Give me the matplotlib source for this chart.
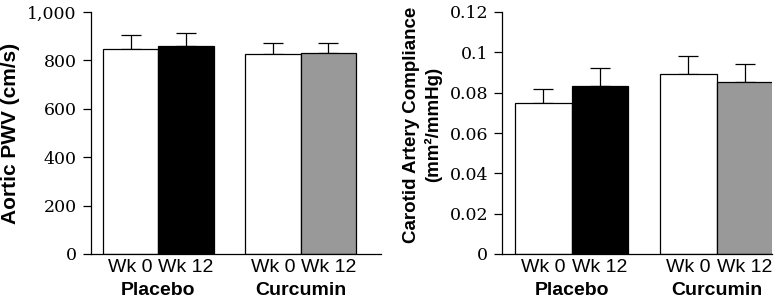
import matplotlib
matplotlib.use("Agg")
import matplotlib.pyplot as plt

# data
groups = ["Placebo", "Curcumin"]
weeks = ["Wk 0", "Wk 12", "Wk 0", "Wk 12"]
bar_colors = ["white", "black", "white", "#999999"]

pwv_mean = [847, 860, 825, 831]
pwv_err = [57, 53, 45, 42]
pwv_ticks = [0, 200, 400, 600, 800, 1000]
pwv_tick_labels = ["0", "200", "400", "600", "800", "1,000"]

comp_mean = [0.0750, 0.0835, 0.0893, 0.0853]
comp_err = [0.0067, 0.0086, 0.0089, 0.0091]
comp_ticks = [0, 0.02, 0.04, 0.06, 0.08, 0.1, 0.12]
comp_tick_labels = ["0", "0.02", "0.04", "0.06", "0.08", "0.1", "0.12"]

xpos = [0, 1, 2.56, 3.56]

W, H = 784, 298
fig = plt.figure(figsize=(W / 100, H / 100), dpi=100)

serif = "DejaVu Serif"
sans = "Liberation Sans"


def draw_panel(rect, means, errs, ticks, tick_labels, ylim, xlim,
               ylabel, label_xy, label_size):
    ax = fig.add_axes(rect)
    ax.bar(xpos, means, width=1.0, color=bar_colors, edgecolor="black",
           linewidth=0.9, zorder=2)
    ax.errorbar(xpos, means, yerr=[[0] * len(errs), errs], fmt="none",
                ecolor="black", elinewidth=0.9, capsize=7, capthick=0.9, zorder=1)
    ax.set_ylim(*ylim)
    ax.set_xlim(*xlim)
    ax.set_yticks(ticks)
    ax.set_yticklabels(tick_labels, fontfamily=serif, fontsize=12.5)
    ax.set_xticks(xpos)
    ax.set_xticklabels(weeks, fontfamily=sans, fontsize=14)
    ax.tick_params(axis="x", length=0, pad=3.5)
    ax.tick_params(axis="y", direction="out", length=6, width=0.9, pad=4)
    for s in ["top", "right"]:
        ax.spines[s].set_visible(False)
    for s in ["left", "bottom"]:
        ax.spines[s].set_linewidth(0.9)
    ax.set_ylabel(ylabel, fontfamily=sans, fontweight="bold",
                  fontsize=label_size, linespacing=1.3)
    ax.yaxis.set_label_coords(*label_xy)
    for i, g in enumerate(groups):
        cx = (xpos[2 * i] + xpos[2 * i + 1]) / 2
        ax.text(cx, -0.169, g, transform=ax.get_xaxis_transform(),
                ha="center", va="baseline", fontfamily=sans,
                fontweight="bold", fontsize=14)
    return ax


bottom = (H - 254) / H
top = (H - 12) / H

draw_panel([90.7 / W, bottom, (381 - 90.7) / W, top - bottom],
           pwv_mean, pwv_err, pwv_ticks, pwv_tick_labels,
           (0, 1000), (-0.72, 4.51), "Aortic PWV (cm/s)", (-0.245, 0.5), 15)

draw_panel([502 / W, bottom, (772 - 502) / W, top - bottom],
           comp_mean, comp_err, comp_ticks, comp_tick_labels,
           (0, 0.12), (-0.73, 4.04),
           "Carotid Artery Compliance\n(mm\u00b2/mmHg)", (-0.222, 0.535), 13.5)

fig.savefig("out.png", dpi=100)
